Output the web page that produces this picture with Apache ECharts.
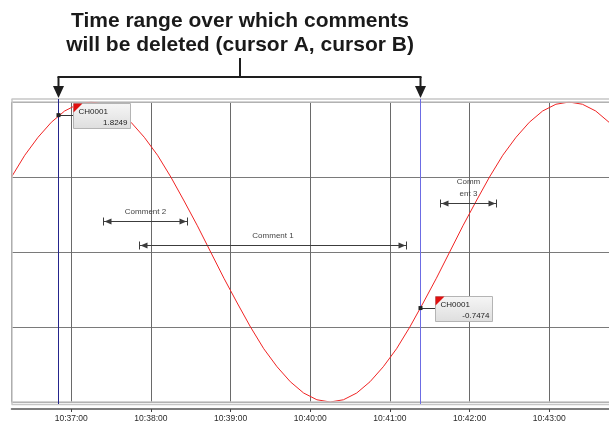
<!DOCTYPE html>
<html>
<head>
<meta charset="utf-8">
<script src="https://cdn.jsdelivr.net/npm/echarts@6/dist/echarts.min.js"></script>
<style>
  html, body { margin: 0; padding: 0; background: #ffffff; }
  #chart { width: 609px; height: 425px; }
</style>
</head>
<body>
<div id="chart"></div>
<script>
// ---- Trend data: channel CH0001 ----
const sampleTimes = [
  '10:36:15', '10:36:25', '10:36:35', '10:36:45', '10:36:55',
  '10:37:05', '10:37:15', '10:37:25', '10:37:35', '10:37:45', '10:37:55',
  '10:38:05', '10:38:15', '10:38:25', '10:38:35', '10:38:45', '10:38:55',
  '10:39:05', '10:39:15', '10:39:25', '10:39:35', '10:39:45', '10:39:55',
  '10:40:05', '10:40:15', '10:40:25', '10:40:35', '10:40:45', '10:40:55',
  '10:41:05', '10:41:15', '10:41:25', '10:41:35', '10:41:45', '10:41:55',
  '10:42:05', '10:42:15', '10:42:25', '10:42:35', '10:42:45', '10:42:55',
  '10:43:05', '10:43:15', '10:43:25', '10:43:35', '10:43:45'
];
const ch0001Values = [
  1.00, 1.29, 1.53, 1.73, 1.88,
  1.97, 2.00, 1.97, 1.88, 1.73, 1.53,
  1.29, 1.00, 0.68, 0.35, 0.00, -0.35,
  -0.68, -1.00, -1.29, -1.53, -1.73, -1.88,
  -1.97, -2.00, -1.97, -1.88, -1.73, -1.53,
  -1.29, -1.00, -0.68, -0.35, 0.00, 0.35,
  0.68, 1.00, 1.29, 1.53, 1.73, 1.88,
  1.97, 2.00, 1.97, 1.88, 1.73
];

// Visible time span and value span
const viewStart = '10:36:15';
const viewEnd = '10:43:45';
const valueMin = -2;
const valueMax = 2;
const valueStep = 1;

// Cursors A and B with their read-out values
const cursorTimes = ['10:36:50', '10:41:23'];
const cursorValues = [1.8249, -0.7474];
const cursorChannel = 'CH0001';

// Comment marks (time span + vertical placement in value units)
const commentNames = ['Comment 1', 'Comment 2', 'Comm\nent 3'];
const commentStarts = ['10:37:51', '10:37:24', '10:41:38'];
const commentEnds = ['10:41:12', '10:38:27', '10:42:20'];
const commentLevels = [0.09, 0.42, 0.66];

// Callout text above the cursors
const calloutLines = ['Time range over which comments', 'will be deleted (cursor A, cursor B)'];

// ---- helpers ----
function toMs(hms) {
  const p = hms.split(':').map(Number);
  return new Date(2024, 0, 1, p[0], p[1], p[2]).getTime();
}
function pad(n) { return (n < 10 ? '0' : '') + n; }
function fmtTime(v) {
  const d = new Date(v);
  return pad(d.getHours()) + ':' + pad(d.getMinutes()) + ':' + pad(d.getSeconds());
}

const FONT = '"Liberation Sans", Arial, sans-serif';
const GRID = { left: 11.5, top: 102, width: 600, height: 300 };

const lineData = sampleTimes.map((t, i) => [toMs(t), ch0001Values[i]]);
const commentData = commentNames.map((n, i) => [toMs(commentStarts[i]), toMs(commentEnds[i]), commentLevels[i], i]);
const cursorData = cursorTimes.map((t, i) => [toMs(t), cursorValues[i], i]);
const bracketData = [[toMs(cursorTimes[0]), toMs(cursorTimes[1])]];

const cursorColors = ['#25258c', '#6c6ce4'];

function renderComment(params, api) {
  const a = api.coord([api.value(0), api.value(2)]);
  const b = api.coord([api.value(1), api.value(2)]);
  const y = Math.round(a[1]) + 0.5;
  const x1 = Math.round(a[0]) + 0.5;
  const x2 = Math.round(b[0]) + 0.5;
  const col = '#3c3c3c';
  const name = commentNames[api.value(3)];
  return {
    type: 'group',
    children: [
      { type: 'line', shape: { x1: x1, y1: y, x2: x2, y2: y }, style: { stroke: col, lineWidth: 1 } },
      { type: 'line', shape: { x1: x1, y1: y - 4, x2: x1, y2: y + 4 }, style: { stroke: col, lineWidth: 1 } },
      { type: 'line', shape: { x1: x2, y1: y - 4, x2: x2, y2: y + 4 }, style: { stroke: col, lineWidth: 1 } },
      { type: 'polygon', shape: { points: [[x1 + 1, y], [x1 + 8, y - 3], [x1 + 8, y + 3]] }, style: { fill: col } },
      { type: 'polygon', shape: { points: [[x2 - 1, y], [x2 - 8, y - 3], [x2 - 8, y + 3]] }, style: { fill: col } },
      {
        type: 'text',
        style: {
          text: name, x: (x1 + x2) / 2, y: y - 3.5,
          align: 'center', verticalAlign: 'bottom',
          font: '8px ' + FONT, fill: '#444444', lineHeight: 12
        }
      }
    ]
  };
}

function renderCursor(params, api) {
  const t = api.value(0);
  const v = api.value(1);
  const idx = api.value(2);
  const p = api.coord([t, v]);
  const top = api.coord([t, valueMax])[1];
  const bottom = api.coord([t, valueMin])[1];
  const x = Math.round(p[0]) + 0.5;
  const y = p[1];
  const bx = x + 15;
  const by = Math.round(y - 12.5) + 0.5;
  return {
    type: 'group',
    children: [
      { type: 'line', shape: { x1: x, y1: top - 3, x2: x, y2: bottom + 2 }, style: { stroke: cursorColors[idx], lineWidth: 1 } },
      { type: 'line', shape: { x1: x, y1: Math.round(y) + 0.5, x2: bx, y2: Math.round(y) + 0.5 }, style: { stroke: '#333', lineWidth: 1 } },
      { type: 'rect', shape: { x: x - 2, y: y - 2, width: 4, height: 4 }, style: { fill: '#222' } },
      {
        type: 'rect', shape: { x: bx, y: by, width: 57, height: 25 },
        style: {
          fill: new echarts.graphic.LinearGradient(0, 0, 0, 1, [
            { offset: 0, color: '#f6f6f6' }, { offset: 1, color: '#dedede' }
          ]),
          stroke: '#b4b4b4', lineWidth: 1
        }
      },
      { type: 'polygon', shape: { points: [[bx, by], [bx + 9, by], [bx, by + 9]] }, style: { fill: '#e01010' } },
      {
        type: 'text',
        style: { text: cursorChannel, x: bx + 5, y: by + 8.5, align: 'left', verticalAlign: 'middle', font: '8px ' + FONT, fill: '#222' }
      },
      {
        type: 'text',
        style: { text: cursorValues[idx].toFixed(4), x: bx + 54, y: by + 19.5, align: 'right', verticalAlign: 'middle', font: '8px ' + FONT, fill: '#222' }
      }
    ]
  };
}

function renderBracket(params, api) {
  const top = api.coord([api.value(0), valueMax])[1];
  const xa = Math.round(api.coord([api.value(0), valueMax])[0]) + 0.5;
  const xb = Math.round(api.coord([api.value(1), valueMax])[0]) + 0.5;
  const mid = Math.round((xa + xb) / 2);
  const hy = top - 25;
  const col = '#1e1e1e';
  const children = [
    { type: 'line', shape: { x1: mid, y1: top - 44, x2: mid, y2: hy }, style: { stroke: col, lineWidth: 2 } },
    { type: 'line', shape: { x1: xa - 1, y1: hy, x2: xb + 1, y2: hy }, style: { stroke: col, lineWidth: 2 } }
  ];
  [xa, xb].forEach(function (x) {
    children.push({ type: 'line', shape: { x1: x, y1: hy, x2: x, y2: top - 14 }, style: { stroke: col, lineWidth: 2 } });
    children.push({ type: 'polygon', shape: { points: [[x - 5.5, top - 16], [x + 5.5, top - 16], [x, top - 4]] }, style: { fill: col } });
  });
  calloutLines.forEach(function (txt, i) {
    children.push({
      type: 'text',
      style: {
        text: txt, x: mid, y: top - 81 + i * 24,
        align: 'center', verticalAlign: 'middle',
        font: 'bold 21px ' + FONT, fill: '#1a1a1a'
      }
    });
  });
  return { type: 'group', children: children };
}

const chart = echarts.init(document.getElementById('chart'), null, { renderer: 'canvas' });

const frame = '#c6c6c6';
const L = GRID.left, T = GRID.top, B = GRID.top + GRID.height;

chart.setOption({
  animation: false,
  backgroundColor: '#ffffff',
  grid: { left: GRID.left, top: GRID.top, width: GRID.width, height: GRID.height, containLabel: false },
  xAxis: {
    type: 'time',
    min: toMs(viewStart),
    max: toMs(viewEnd),
    minInterval: 60000,
    maxInterval: 60000,
    offset: 7,
    axisLine: { show: true, onZero: false, lineStyle: { color: '#555555', width: 1.5 } },
    axisTick: { show: true, length: 3, lineStyle: { color: '#444444' } },
    axisLabel: {
      show: true, formatter: fmtTime, fontSize: 8.5, color: '#2a2a2a',
      fontFamily: FONT, margin: 5, showMinLabel: false, showMaxLabel: false, hideOverlap: false
    },
    splitLine: { show: true, lineStyle: { color: '#6a6a6a', width: 1 } },
    minorSplitLine: { show: false }
  },
  yAxis: {
    type: 'value',
    min: valueMin,
    max: valueMax,
    interval: valueStep,
    axisLine: { show: false },
    axisTick: { show: false },
    axisLabel: { show: false },
    splitLine: { show: true, lineStyle: { color: '#7a7a7a', width: 1 } }
  },
  graphic: [
    { type: 'line', z: 50, shape: { x1: L, y1: T - 3, x2: 609, y2: T - 3 }, style: { stroke: frame, lineWidth: 1.5 } },
    { type: 'line', z: 50, shape: { x1: L, y1: T, x2: 609, y2: T }, style: { stroke: frame, lineWidth: 1.5 } },
    { type: 'line', z: 50, shape: { x1: L, y1: B, x2: 609, y2: B }, style: { stroke: frame, lineWidth: 1.5 } },
    { type: 'line', z: 50, shape: { x1: L, y1: B + 2.5, x2: 609, y2: B + 2.5 }, style: { stroke: frame, lineWidth: 1.5 } },
    { type: 'line', z: 50, shape: { x1: L + 0.5, y1: T - 3, x2: L + 0.5, y2: B + 2.5 }, style: { stroke: frame, lineWidth: 1.5 } }
  ],
  series: [
    {
      name: 'CH0001',
      type: 'line',
      data: lineData,
      showSymbol: false,
      smooth: false,
      lineStyle: { color: '#f02424', width: 1 },
      z: 3
    },
    {
      type: 'custom',
      renderItem: renderComment,
      data: commentData,
      encode: { x: [0, 1], y: 2 },
      clip: false,
      silent: true,
      z: 4
    },
    {
      type: 'custom',
      renderItem: renderCursor,
      data: cursorData,
      encode: { x: 0, y: 1 },
      clip: false,
      silent: true,
      z: 60
    },
    {
      type: 'custom',
      renderItem: renderBracket,
      data: bracketData,
      encode: { x: [0, 1] },
      clip: false,
      silent: true,
      z: 60
    }
  ]
});
</script>
</body>
</html>
